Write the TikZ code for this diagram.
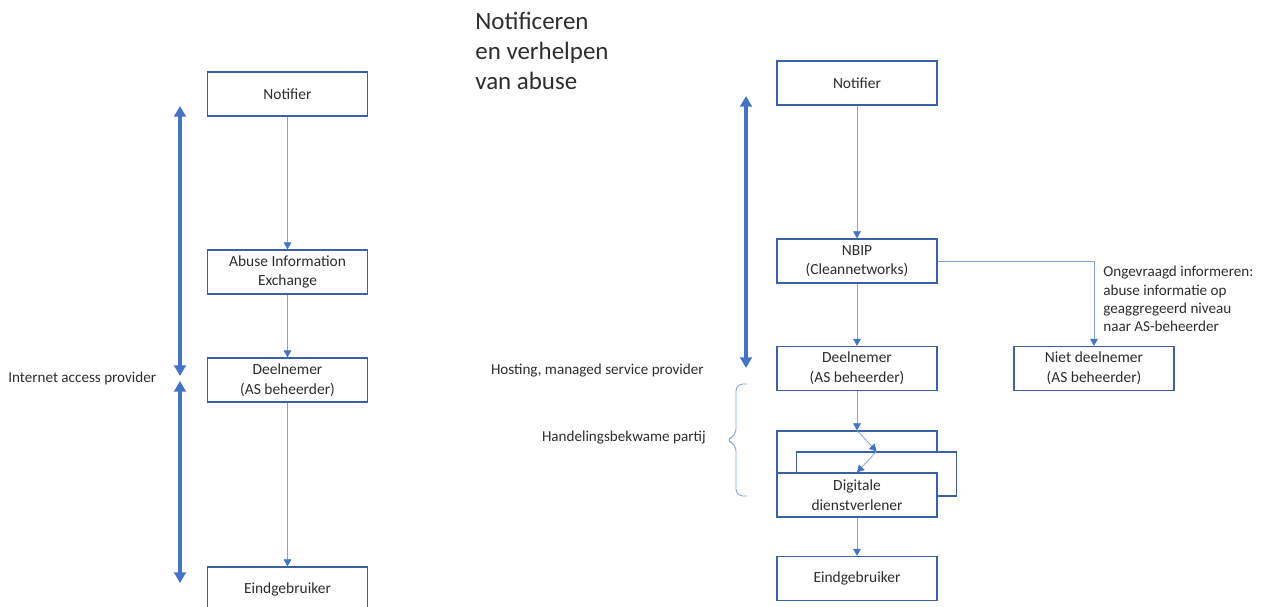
\documentclass[tikz,border=0pt]{standalone}
\usepackage{fontspec}
\setmainfont{Carlito}
\usetikzlibrary{arrows.meta}
\definecolor{boxblue}{RGB}{58,96,170}
\definecolor{linkblue}{RGB}{68,114,196}
\definecolor{txt}{RGB}{45,45,45}
\tikzset{
  box/.style={draw=boxblue, line width=0.75pt, fill=white, minimum width=3.2cm,
    minimum height=0.88cm, inner sep=1pt, align=center, text=txt,
    font=\fontsize{8.8}{11.2}\selectfont},
  conn/.style={draw=linkblue!65, line width=0.45pt,
    -{Triangle[length=4pt,width=4.4pt,color=linkblue,fill=linkblue]}},
  span/.style={draw=linkblue, line width=1.8pt,
    {Triangle[length=6pt,width=6.5pt]}-{Triangle[length=6pt,width=6.5pt]}},
  lbl/.style={text=txt, inner sep=0pt, font=\fontsize{8.6}{10.4}\selectfont},
}
\begin{document}
\begin{tikzpicture}[x=0.02cm,y=-0.02cm]
\useasboundingbox (0,0) rectangle (1262,606);

% title
\node[anchor=north west, align=left, text=txt, inner sep=0pt,
  font=\fontsize{14.2}{17}\selectfont] (title) at (475,12) {Notificeren\\en verhelpen\\van abuse};

% left chain
\node[box] (lnot) at (287.5,94) {Notifier};
\node[box] (laie) at (287.5,272) {Abuse Information\\Exchange};
\node[box] (ldee) at (287.5,380) {Deelnemer\\(AS beheerder)};
\node[box] (leind) at (287.5,589) {Eindgebruiker};
\draw[conn] (lnot.south) -- (laie.north);
\draw[conn] (laie.south) -- (ldee.north);
\draw[conn] (ldee.south) -- (leind.north);

% left spans
\coordinate (la1) at (180,106);
\coordinate (la2) at (180,376);
\coordinate (lb1) at (180,381);
\coordinate (lb2) at (180,583);
\draw[span] (la1) -- (la2);
\draw[span] (lb1) -- (lb2);
\node[lbl, anchor=west] (iap) at (8,378) {Internet access provider};

% right chain
\node[box] (rnot) at (857,83) {Notifier};
\node[box] (nbip) at (857,261) {NBIP\\(Cleannetworks)};
\node[box] (rdee) at (857,368.5) {Deelnemer\\(AS beheerder)};
\node[box] (niet) at (1094,368.5) {Niet deelnemer\\(AS beheerder)};
\node[box] (dback) at (857,453) {};
\node[box] (dmid) at (876.5,474) {};
\node[box] (dfront) at (857,495) {Digitale\\dienstverlener};
\node[box] (reind) at (857,578.5) {Eindgebruiker};

\draw[conn] (rnot.south) -- (nbip.north);
\draw[conn] (nbip.south) -- (rdee.north);
\draw[conn] (nbip.east) -| (niet.north);
\draw[conn] (rdee.south) -- (dback.north);
\draw[conn] (dback.north) -- (dmid.north);
\draw[conn] (dmid.north) -- (dfront.north);
\draw[conn] (dfront.south) -- (reind.north);

\node[lbl, anchor=north west, align=left] (ongev) at (1103,266)
  {Ongevraagd informeren:\\abuse informatie op\\geaggregeerd niveau\\naar AS-beheerder};

% right span
\coordinate (ra1) at (746,96);
\coordinate (ra2) at (746,368);
\draw[span] (ra1) -- (ra2);
\node[lbl, anchor=east] (host) at (704,371) {Hosting, managed service provider};

% brace
\coordinate (bt) at (747,384);
\coordinate (bm) at (725,440);
\coordinate (bb) at (747,496);
\draw[draw=linkblue!65, line width=0.5pt, rounded corners=4pt]
  (bt) -- (736,384) -- (736,436) -- (bm) -- (736,444) -- (736,496) -- (bb);
\node[lbl, anchor=east] (hand) at (706,438) {Handelingsbekwame partij};
\end{tikzpicture}
\end{document}
